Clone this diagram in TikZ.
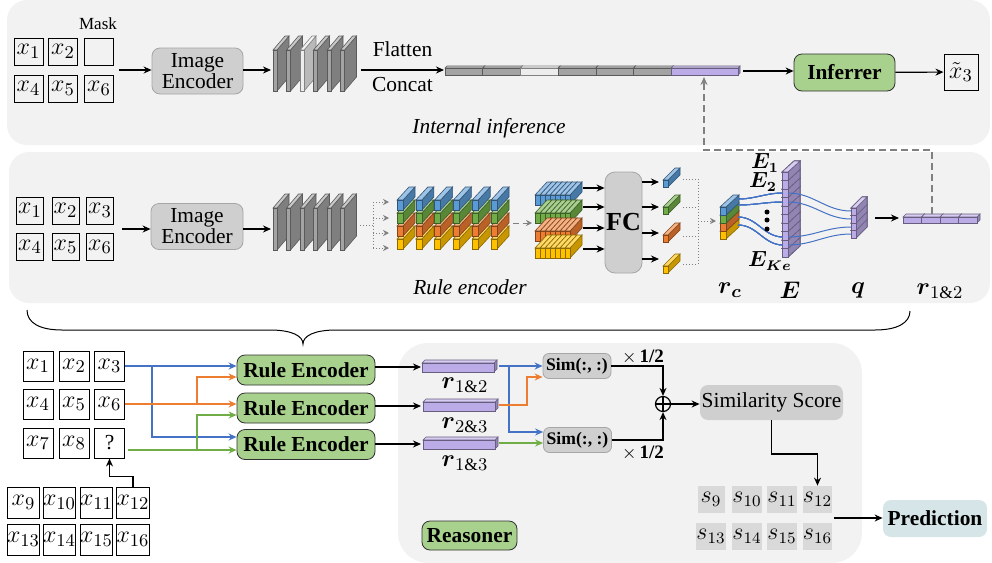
\documentclass[tikz,border=0pt]{standalone}
\usepackage{fontspec}
\setmainfont{Liberation Serif}
\usepackage{amsmath}
\usetikzlibrary{arrows.meta, positioning, calc}
\definecolor{PanelGray}{HTML}{F2F2F2}
\definecolor{BoxGray}{HTML}{CFCFCF}
\definecolor{BoxEdge}{HTML}{A6A6A6}
\definecolor{LeafGreen}{HTML}{A9D18E}
\definecolor{DarkEdge}{HTML}{303030}
\definecolor{LineBlue}{HTML}{4472C4}
\definecolor{LineOrange}{HTML}{ED7D31}
\definecolor{LineGreen}{HTML}{70AD47}
\definecolor{CubeBlue}{HTML}{5B9BD5}
\definecolor{CubeGreen}{HTML}{70AD47}
\definecolor{CubeOrange}{HTML}{ED7D31}
\definecolor{CubeYellow}{HTML}{FFC000}
\definecolor{LightPurple}{HTML}{BBABE6}
\definecolor{SlabGray}{HTML}{A3A3A3}
\definecolor{SlabLight}{HTML}{EDEDED}
\definecolor{ScoreGray}{HTML}{D9D9D9}
\definecolor{PredBlue}{HTML}{D5E5E8}
\definecolor{HintGray}{HTML}{808080}

% 3d block: x, y (front lower left), width, height, depth x, depth y, colour
\newcommand{\drawblock}[7]{%
  \filldraw[draw=#7!55!black, fill=#7!78!black, line width=0.3pt]
    (#1+#3,#2) -- ++(#5,-#6) -- ++(0,-#4) -- ++(-#5,#6) -- cycle;
  \filldraw[draw=#7!55!black, fill=#7!60!white, line width=0.3pt]
    (#1,#2-#4) -- ++(#5,-#6) -- ++(#3,0) -- ++(-#5,#6) -- cycle;
  \filldraw[draw=#7!55!black, fill=#7, line width=0.3pt]
    (#1,#2) rectangle ++(#3,-#4);
}

\begin{document}
\begin{tikzpicture}[x=0.5pt, y=-0.5pt,
    font=\fontsize{10.7}{12}\selectfont,
    panel/.style={fill=PanelGray, rounded corners=10pt},
    cell/.style={draw, line width=0.5pt, minimum width=14.5pt, minimum height=13.5pt, inner sep=0pt,
        font=\fontsize{12.5}{14}\selectfont},
    encoder/.style={draw=BoxEdge, fill=BoxGray, rounded corners=4pt, align=center,
        inner sep=0pt, minimum width=45.5pt, minimum height=23pt,
        font=\fontsize{10.7}{10.5}\selectfont},
    module/.style={draw=DarkEdge, fill=LeafGreen, rounded corners=4pt, inner sep=0pt,
        font=\fontsize{10.7}{12}\selectfont\bfseries},
    simbox/.style={draw=BoxEdge, fill=BoxGray, rounded corners=3pt, inner sep=0pt,
        minimum width=34pt, minimum height=12.5pt, font=\fontsize{8.8}{10}\selectfont\bfseries},
    score/.style={fill=ScoreGray, minimum size=13.5pt, inner sep=0pt, font=\fontsize{12}{14}\selectfont},
    flow/.style={-{Stealth[length=4pt, width=3.5pt]}, line width=0.6pt},
    hint/.style={densely dotted, HintGray, line width=0.5pt},
    vec/.style={font=\fontsize{12.5}{14}\selectfont},
    sumnode/.style={circle, draw, line width=0.6pt, minimum size=7.5pt, inner sep=0pt,
        path picture={\draw[line width=0.6pt] (path picture bounding box.north) -- (path picture bounding box.south)
            (path picture bounding box.west) -- (path picture bounding box.east);}},
]
\useasboundingbox (0,0) rectangle (992,563);

% panels
\path[panel] (7,0) rectangle (990,145);
\path[panel] (9,152) rectangle (990,303);
\path[panel, rounded corners=15pt] (398,343) rectangle (862,563);

%%% internal inference
\node[cell] (a1) at (28.5,51.5) {$x_1$};
\node[cell] (a2) at (63,51.5) {$x_2$};
\node[cell] (am) at (99,51.5) {};
\node[font=\fontsize{8.5}{10}\selectfont] (mask) at (98,24) {Mask};
\node[cell] (a4) at (28.5,88.5) {$x_4$};
\node[cell] (a5) at (63,88.5) {$x_5$};
\node[cell] (a6) at (99,88.5) {$x_6$};
\coordinate (agrid) at (119,70);
\node[encoder] (enc1) at (197.5,71) {Image\\Encoder};
\draw[flow] (agrid) -- (agrid -| enc1.west);
\coordinate (fm1) at (271,70);
\draw[flow] (enc1.east |- fm1) -- (fm1);
\foreach \i/\c in {0/SlabGray, 1/SlabGray, 2/SlabLight, 3/SlabGray, 4/SlabGray, 5/SlabGray} {
  \pgfmathsetmacro\sx{273+13.5*\i}
  \drawblock{\sx}{91}{4}{41}{12}{14}{\c}
}
\coordinate (fm1out) at (361,70);
\coordinate (bar1in) at (444,70);
\draw[flow] (fm1out) -- (bar1in) node[midway, above=3pt] (flat) {Flatten}
    node[midway, below=0pt] (cat) {Concat};
\foreach \k/\c in {0/SlabGray, 1/SlabGray, 2/SlabLight, 3/SlabGray, 4/SlabGray, 5/SlabGray} {
  \pgfmathsetmacro\fx{445+37.7*\k}
  \drawblock{\fx}{75}{37.7}{7}{2}{2}{\c}
}
\drawblock{671}{75}{67}{7}{2}{2}{LightPurple}
\coordinate (bar1out) at (743,71);
\node[module, minimum width=50.5pt, minimum height=18.5pt] (inf) at (844.5,72.5) {Inferrer};
\draw[flow] (bar1out) -- (bar1out -| inf.west);
\node[cell, minimum width=17pt, minimum height=18pt] (xt) at (961,72) {$\tilde{x}_3$};
\draw[flow] (inf) -- (xt);
\node[font=\fontsize{10.7}{12}\selectfont\itshape] (inftitle) at (489,128) {Internal inference};

%%% rule encoder
\node[cell, minimum width=13.5pt] (c1) at (30,210.5) {$x_1$};
\node[cell, minimum width=13.5pt] (c2) at (65.5,210.5) {$x_2$};
\node[cell, minimum width=13.5pt] (c3) at (100,210.5) {$x_3$};
\node[cell, minimum width=13.5pt] (c4) at (30,247) {$x_4$};
\node[cell, minimum width=13.5pt] (c5) at (65.5,247) {$x_5$};
\node[cell, minimum width=13.5pt] (c6) at (100,247) {$x_6$};
\coordinate (cgrid) at (122,229);
\node[encoder, minimum width=46pt] (enc2) at (197,226.5) {Image\\Encoder};
\draw[flow] (cgrid) -- (cgrid -| enc2.west);
\coordinate (fm2) at (271,229);
\draw[flow] (enc2.east |- fm2) -- (fm2);
\foreach \i in {0,...,5} {
  \pgfmathsetmacro\sx{273+13.5*\i}
  \drawblock{\sx}{250}{4}{42}{12}{14}{SlabGray}
}
\draw[hint] (360,225) -- (373,225);
\draw[hint] (373,202) -- (373,248);
\foreach \y in {202,218,233,248}
  \draw[hint, -{Stealth[length=3pt, width=3pt]}] (373,\y) -- (389,\y);
\foreach \i in {0,...,5}
  \foreach \y/\c in {249/CubeYellow, 236/CubeOrange, 223/CubeGreen, 210/CubeBlue} {
    \pgfmathsetmacro\gx{397+18.8*\i}
    \drawblock{\gx}{\y}{6}{10}{12}{13}{\c}
  }
\draw[hint, densely dashed, -{Stealth[length=3pt, width=3pt]}] (513,223) -- (532,223);
\foreach \y/\c in {205/CubeBlue, 223/CubeGreen, 241/CubeOrange, 258/CubeYellow}
  \foreach \k in {0,...,6} {
    \pgfmathsetmacro\gx{535+5*\k}
    \drawblock{\gx}{\y}{5}{10}{12}{13}{\c}
  }
\node[draw=BoxEdge, fill=BoxGray, rounded corners=5pt, minimum width=18.5pt, minimum height=50.5pt,
    inner sep=0pt, font=\fontsize{13}{14}\selectfont\bfseries] (fc) at (623.5,222.5) {FC};
\foreach \y in {188,207,228,249} {
  \coordinate (fcin) at (583,\y);
  \draw[flow] (fcin) -- (fcin -| fc.west);
}
\foreach \y in {182,207,233,259} {
  \coordinate (fcout) at (659,\y);
  \draw[flow] (fcout -| fc.east) -- (fcout);
}
\drawblock{663}{187}{5}{7}{12}{12}{CubeBlue}
\drawblock{663}{214}{5}{7}{12}{12}{CubeGreen}
\drawblock{663}{242}{5}{7}{12}{12}{CubeOrange}
\drawblock{663}{273}{5}{7}{12}{12}{CubeYellow}
\foreach \y in {179,207,236,264}
  \draw[hint] (683,\y) -- (698,\y);
\draw[hint] (698,179) -- (698,264);
\draw[hint, -{Stealth[length=3pt, width=3pt]}] (698,221) -- (716,221);
\foreach \y/\c in {239/CubeYellow, 231/CubeOrange, 223/CubeGreen, 215/CubeBlue}
  \drawblock{720}{\y}{6}{8}{13}{12}{\c}
\foreach \k in {0,...,9} {
  \pgfmathsetmacro\ey{257-8.5*\k}
  \drawblock{782}{\ey}{6}{8.5}{12}{11}{LightPurple}
}
\foreach \k in {0,...,3} {
  \pgfmathsetmacro\qy{238-7.5*\k}
  \drawblock{851}{\qy}{5}{7.5}{11}{11}{LightPurple}
}
\foreach \a/\b in {199/193, 205/202, 217/237, 225/245}
  \draw[LineBlue, line width=0.5pt] (738,\a) to[out=0, in=180] (783,\b);
\foreach \a/\b in {193/211, 202/219, 237/227, 245/234}
  \draw[LineBlue, line width=0.5pt] (788,\a) to[out=0, in=180] (851,\b);
\foreach \y in {212,220,229}
  \fill (767,\y) circle (2.5);
\node[font=\fontsize{10.5}{12}\selectfont] (e1) at (765,163) {$\boldsymbol{E_1}$};
\node[font=\fontsize{10.5}{12}\selectfont] (e2) at (763,182) {$\boldsymbol{E_2}$};
\node[font=\fontsize{10.5}{12}\selectfont] (eke) at (770,261) {$\boldsymbol{E_{Ke}}$};
\coordinate (qout) at (875,218);
\coordinate (r12in) at (899,218);
\draw[flow] (qout) -- (r12in);
\foreach \k in {0,...,3} {
  \pgfmathsetmacro\rx{903+18.5*\k}
  \drawblock{\rx}{223}{18.5}{6}{3}{3}{LightPurple}
}
\node[vec] (lrc) at (730,290) {$\boldsymbol{r}_{\boldsymbol{c}}$};
\node[vec] (le) at (790,290) {$\boldsymbol{E}$};
\node[vec] (lq) at (858,290) {$\boldsymbol{q}$};
\node[vec] (lr12) at (940,291) {$\boldsymbol{r}_{1\&2}$};
\node[font=\fontsize{10.7}{12}\selectfont\itshape] (ruletitle) at (470,287) {Rule encoder};

% link back to the flattened vector
\coordinate (r12top) at (932,214);
\coordinate (bar1hole) at (704,77);
\draw[flow, HintGray, dash pattern=on 3.5pt off 2pt, line width=0.7pt] (r12top) -- (932,150) -| (bar1hole);

% brace
\draw[line width=0.5pt] (27,310) .. controls (27,323) and (40,330) .. (62,330) -- (270,330)
    .. controls (292,330) and (303,336) .. (303,344) .. controls (303,336) and (314,330) .. (336,330)
    -- (875,330) .. controls (897,330) and (910,323) .. (910,311);

%%% reasoner
\node[cell, minimum width=15pt, minimum height=15pt] (b1) at (38,366) {$x_1$};
\node[cell, minimum width=15pt, minimum height=15pt] (b2) at (74,366) {$x_2$};
\node[cell, minimum width=15pt, minimum height=15pt] (b3) at (109.5,366) {$x_3$};
\node[cell, minimum width=15pt, minimum height=15pt] (b4) at (38,404) {$x_4$};
\node[cell, minimum width=15pt, minimum height=15pt] (b5) at (74,404) {$x_5$};
\node[cell, minimum width=15pt, minimum height=15pt] (b6) at (109.5,404) {$x_6$};
\node[cell, minimum width=15pt, minimum height=15pt] (b7) at (38,443) {$x_7$};
\node[cell, minimum width=15pt, minimum height=15pt] (b8) at (74,443) {$x_8$};
\node[cell, minimum width=15pt, minimum height=15pt, font=\fontsize{10.7}{12}\selectfont] (bq) at (109.5,443) {?};
\foreach \n/\x in {9/23.5, 10/59.5, 11/96.5, 12/133}
  \node[cell, minimum width=16pt, minimum height=15.5pt] (d\n) at (\x,502.5) {$x_{\n}$};
\foreach \n/\x in {13/23.5, 14/59.5, 15/96.5, 16/133}
  \node[cell, minimum width=16pt, minimum height=15.5pt] (d\n) at (\x,539.5) {$x_{\n}$};
\draw[flow] (d12.north) -- ++(0,-10) -| (bq.south);

\node[module, minimum width=69pt, minimum height=15pt] (re1) at (306,370) {Rule Encoder};
\node[module, minimum width=69pt, minimum height=15pt] (re2) at (306,408) {Rule Encoder};
\node[module, minimum width=69pt, minimum height=15pt] (re3) at (306,444.5) {Rule Encoder};

\coordinate (bsplit) at (152,366);
\coordinate (osplit) at (197,404);
\coordinate (gstart) at (128,450);
\coordinate (gsplit) at (197,450);
\draw[flow, LineBlue] (b3.east) -- (b3.east -| re1.west);
\draw[flow, LineBlue] (bsplit) |- (re3.west |- 0,437);
\draw[flow, LineOrange] (b6.east) -- (b6.east -| re2.west);
\draw[flow, LineOrange] (osplit) |- (re1.west |- 0,377);
\draw[flow, LineGreen] (gstart) -- (gstart -| re3.west);
\draw[flow, LineGreen] (gsplit) |- (re2.west |- 0,415);

\coordinate (r12a) at (421,367);
\coordinate (r23a) at (421,406);
\coordinate (r13a) at (421,444);
\draw[flow] (re1.east |- r12a) -- (r12a);
\draw[flow] (re2.east |- r23a) -- (r23a);
\draw[flow] (re3.east |- r13a) -- (r13a);
\drawblock{422}{372}{72}{9}{3}{3}{LightPurple}
\drawblock{423}{411}{72}{9}{3}{3}{LightPurple}
\drawblock{423}{449}{72}{9}{3}{3}{LightPurple}
\node[vec] (lr12b) at (465,385) {$\boldsymbol{r}_{1\&2}$};
\node[vec] (lr23) at (465,425) {$\boldsymbol{r}_{2\&3}$};
\node[vec] (lr13) at (465,463) {$\boldsymbol{r}_{1\&3}$};

\node[simbox] (sim1) at (577,366) {Sim(:, :)};
\node[simbox] (sim2) at (577.5,440) {Sim(:, :)};
\coordinate (r12out) at (499,366);
\coordinate (r23out) at (499,405);
\coordinate (r13out) at (499,443);
\coordinate (rsplit) at (509,366);
\coordinate (obend) at (527,405);
\draw[flow, LineBlue] (r12out) -- (r12out -| sim1.west);
\draw[flow, LineBlue] (rsplit) |- (sim2.west |- 0,432);
\draw[flow, LineOrange] (r23out) -- (obend) |- (sim1.west |- 0,377);
\draw[flow, LineGreen] (r13out) -- (r13out -| sim2.west);

\node[sumnode] (sum) at (663,404) {};
\draw[flow] (sim1.east) -| (sum.north);
\draw[flow] (sim2.east) -| (sum.south);
\node[font=\fontsize{9.5}{11}\selectfont] (half1) at (643,357) {$\times$\,\textbf{1/2}};
\node[font=\fontsize{9.5}{11}\selectfont] (half2) at (643,453) {$\times$\,\textbf{1/2}};

\node[fill=BoxGray, rounded corners=4pt, minimum width=71.5pt, minimum height=17.5pt, inner sep=0pt] (ss)
    at (771.5,402.5) {Similarity Score};
\draw[flow] (sum) -- (sum -| ss.west);

\foreach \n/\x in {9/711, 10/747, 11/782, 12/817.5}
  \node[score] (s\n) at (\x,499.5) {$s_{\n}$};
\foreach \n/\x in {13/711, 14/747, 15/782, 16/817.5}
  \node[score] (s\n) at (\x,536.5) {$s_{\n}$};
\draw[flow] (ss.south) -- (ss.south |- 0,454) -| (s12.north);

\node[fill=PredBlue, rounded corners=4pt, minimum width=52pt, minimum height=18.5pt, inner sep=0pt,
    font=\fontsize{10.7}{12}\selectfont\bfseries] (pred) at (935,518.5) {Prediction};
\coordinate (sgrid) at (834,518);
\draw[flow] (sgrid) -- (sgrid -| pred.west);

\node[module, minimum width=47.5pt, minimum height=14.5pt] (reas) at (469.5,535.5) {Reasoner};

\end{tikzpicture}
\end{document}
